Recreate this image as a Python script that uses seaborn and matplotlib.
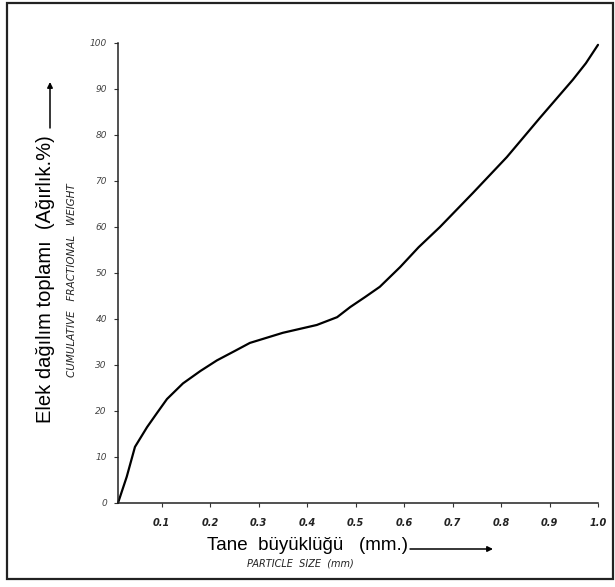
import matplotlib
matplotlib.use("Agg")
import matplotlib.pyplot as plt
from matplotlib.patches import Rectangle
import seaborn as sns

# ---- data ----
size_mm = [0.01, 0.028, 0.045, 0.07, 0.09, 0.111, 0.144, 0.18, 0.214, 0.25, 0.282,
           0.35, 0.42, 0.462, 0.489, 0.52, 0.55, 0.592, 0.63, 0.674, 0.742, 0.812,
           0.88, 0.948, 0.975, 1.0]
cum_weight = [0, 5.7, 12.2, 16.5, 19.5, 22.6, 26.0, 28.7, 31.0, 33.0, 34.8,
              37.0, 38.7, 40.4, 42.6, 44.8, 47.0, 51.3, 55.6, 60.0, 67.4, 75.2,
              83.7, 92.0, 95.6, 99.6]
x_ticks = [0.1, 0.2, 0.3, 0.4, 0.5, 0.6, 0.7, 0.8, 0.9, 1.0]
x_tick_labels = ["0.1", "0.2", "0.3", "0.4", "0.5", "0.6", "0.7", "0.8", "0.9", "1.0"]
y_ticks = [0, 10, 20, 30, 40, 50, 60, 70, 80, 90, 100]
y_tick_labels = ["0", "10", "20", "30", "40", "50", "60", "70", "80", "90", "100"]

ylabel_tr = "Elek dağılım toplamı  (Ağırlık.%)"
ylabel_en = "CUMULATIVE   FRACTIONAL   WEIGHT"
xlabel_tr = "Tane  büyüklüğü   (mm.)"
xlabel_en = "PARTICLE  SIZE  (mm)"

sns.set_style("white")
plt.rcParams["font.family"] = ["Liberation Sans", "DejaVu Sans"]

W, H = 615, 587
fig = plt.figure(figsize=(W / 100, H / 100), dpi=100)
ax = fig.add_axes([118 / W, 84 / H, 480 / W, 460 / H])

sns.lineplot(x=size_mm, y=cum_weight, sort=False, color="black", lw=1.6, ax=ax)
for l in ax.lines:
    l.set_clip_on(False)

ax.set_xlim(0.01, 1.0)
ax.set_ylim(0, 100)
for s in ["top", "right"]:
    ax.spines[s].set_visible(False)
for s in ["left", "bottom"]:
    ax.spines[s].set_color("#222222")
    ax.spines[s].set_linewidth(1.1)

ax.set_xticks(x_ticks)
ax.set_xticklabels(x_tick_labels, fontstyle="italic", fontsize=7,
                   family="DejaVu Sans", color="#222222", fontweight="bold")
ax.set_yticks(y_ticks)
ax.set_yticklabels(y_tick_labels, fontstyle="italic", fontsize=6.5,
                   family="DejaVu Sans", color="#444444")
ax.tick_params(axis="both", direction="out", length=3, width=0.8, color="#333333",
               bottom=True, left=True)
ax.tick_params(axis="x", pad=8)
ax.tick_params(axis="y", pad=5)
ax.set_xlabel("")
ax.set_ylabel("")

# frame around whole figure
fig.add_artist(Rectangle((7 / W, 1 - 579 / H), (613 - 7) / W, (579 - 3) / H,
                         transform=fig.transFigure, fill=False, lw=1.6,
                         ec="#222222"))

# y labels
fig.text(46 / W, 1 - 279 / H, ylabel_tr, rotation=90, ha="center", va="center",
         fontsize=14.5, color="black")
fig.text(72 / W, 1 - 280 / H, ylabel_en, rotation=90, ha="center", va="center",
         fontsize=7.5, fontstyle="italic", family="DejaVu Sans", color="#222222")
ax.annotate("", xy=(50, H - 82), xytext=(50, H - 128), xycoords="figure pixels",
            textcoords="figure pixels",
            arrowprops=dict(arrowstyle="-|>", lw=1.1, color="black",
                            mutation_scale=8, shrinkA=0, shrinkB=0))

# x labels
t = fig.text(207 / W, 1 - 546 / H, xlabel_tr, ha="left", va="center",
             fontsize=13.5, color="black")
fig.text(300 / W, 1 - 564 / H, xlabel_en, ha="center", va="center",
         fontsize=7, fontstyle="italic", family="DejaVu Sans", color="#222222")
fig.canvas.draw()
bb = t.get_window_extent()
ax.annotate("", xy=(493, H - 549), xytext=(bb.x1 + 2, H - 549),
            xycoords="figure pixels", textcoords="figure pixels",
            arrowprops=dict(arrowstyle="-|>", lw=1.1, color="black",
                            mutation_scale=8, shrinkA=0, shrinkB=0))

fig.savefig("out.png", dpi=100)
